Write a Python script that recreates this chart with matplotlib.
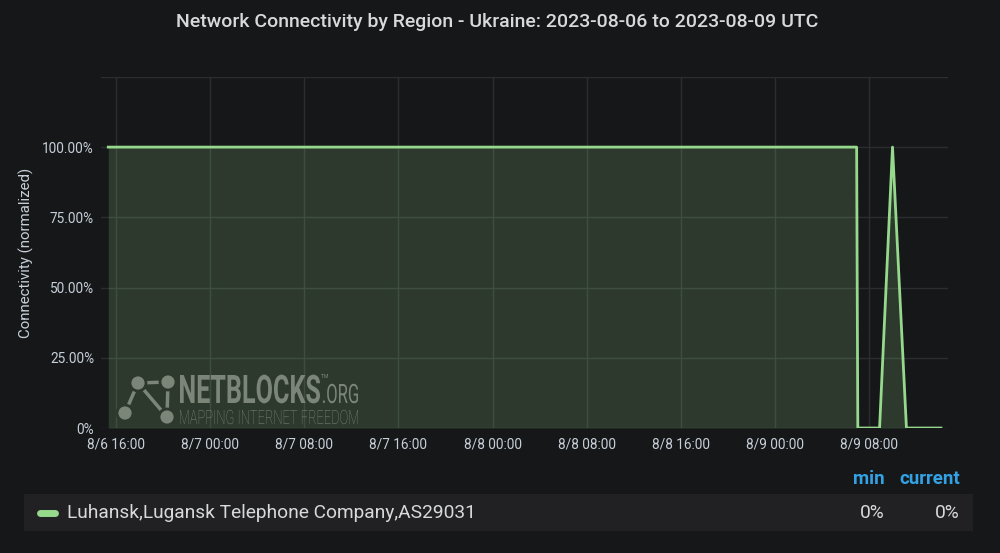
import pandas as pd
import matplotlib.pyplot as plt
from matplotlib.patches import FancyBboxPatch, Circle, PathPatch
from matplotlib.lines import Line2D
from matplotlib.textpath import TextPath
from matplotlib.font_manager import FontProperties
from matplotlib.transforms import Affine2D, IdentityTransform

# Series (UTC)
times = ["2023-08-06 15:20", "2023-08-09 06:57", "2023-08-09 07:03",
         "2023-08-09 08:54", "2023-08-09 10:00", "2023-08-09 11:11",
         "2023-08-09 14:07"]
values = [100, 100, 0, 0, 100, 0, 0]

series_name = "Luhansk,Lugansk Telephone Company,AS29031"
legend_min = "0%"
legend_current = "0%"

x_start, x_end = "2023-08-06 14:43", "2023-08-09 14:43"
x_ticks = ["2023-08-06 16:00", "2023-08-07 00:00", "2023-08-07 08:00",
           "2023-08-07 16:00", "2023-08-08 00:00", "2023-08-08 08:00",
           "2023-08-08 16:00", "2023-08-09 00:00", "2023-08-09 08:00"]
x_tick_labels = ["8/6 16:00", "8/7 00:00", "8/7 08:00", "8/7 16:00", "8/8 00:00",
                 "8/8 08:00", "8/8 16:00", "8/9 00:00", "8/9 08:00"]
y_ticks = [0, 25, 50, 75, 100, 125]
y_tick_labels = ["0%", "25.00%", "50.00%", "75.00%", "100.00%", ""]

BG = "#161719"
LINE = "#96d98d"
TEXT = "#c7d0d9"
GRID = "#2c2d30"
H = 553

plt.rcParams["font.family"] = ["Roboto", "DejaVu Sans"]

t = pd.to_datetime(times)
fig = plt.figure(figsize=(10, 5.53), dpi=100, facecolor=BG)
ax = fig.add_axes([0.101, 0.226, 0.847, 0.635], facecolor=BG)

ax.fill_between(t, values, 0, color=LINE, alpha=0.18, linewidth=0, zorder=2)
ax.plot(t, values, color=LINE, linewidth=2, zorder=3)

ax.set_xlim(pd.Timestamp(x_start), pd.Timestamp(x_end))
ax.set_ylim(0, 125)
ax.set_xticks(pd.to_datetime(x_ticks))
ax.set_xticklabels(x_tick_labels)
ax.set_yticks(y_ticks)
ax.set_yticklabels(y_tick_labels)
ax.tick_params(colors=TEXT, labelsize=9.8, length=0)
ax.tick_params(axis="x", pad=7)
ax.tick_params(axis="y", pad=5)
ax.grid(True, color=GRID, linewidth=1, zorder=0)
for s in ax.spines.values():
    s.set_visible(False)
ax.set_ylabel("Connectivity (normalized)", color=TEXT, fontsize=10.8, labelpad=6)

fig.text(0.497, 0.96, "Network Connectivity by Region - Ukraine: 2023-08-06 to 2023-08-09 UTC",
         ha="center", va="center", color="#d8d9da", fontsize=14, fontweight="medium")


# watermark, drawn in pixel coordinates so it can be squeezed like the original logo
WM = "#7b8679"
HALO = "#2e392d"


def boxed_text(s, x0, x1, base, cap, weight="normal"):
    tp = TextPath((0, 0), s, size=100, prop=FontProperties(family="Roboto", weight=weight))
    bb = tp.get_extents()
    tr = Affine2D().translate(-bb.x0, 0).scale((x1 - x0) / bb.width, cap / 71.1)
    tr = tr.translate(x0, H - base)
    fig.add_artist(PathPatch(tp, transform=tr, facecolor=WM, edgecolor="none", zorder=5))


boxed_text("NETBLOCKS", 180, 320, 403, 28, "bold")
boxed_text(".ORG", 323, 358, 403, 19)
boxed_text("TM", 321, 328, 378, 4)
boxed_text("MAPPING INTERNET FREEDOM", 180, 358, 424, 14, "light")

nodes = [(138, 383), (168, 382), (125, 413), (167, 417)]
for a, b in [(0, 1), (0, 2), (0, 3), (1, 3)]:
    fig.add_artist(Line2D([nodes[a][0], nodes[b][0]], [H - nodes[a][1], H - nodes[b][1]],
                          transform=IdentityTransform(), color=WM, linewidth=2.5, zorder=5))
for nx, ny in nodes:
    fig.add_artist(Circle((nx, H - ny), 8, transform=IdentityTransform(),
                          facecolor=WM, edgecolor=HALO, linewidth=2, zorder=6))

# legend table
fig.add_artist(FancyBboxPatch((0.024, 1 - 531 / H), 0.949, 37 / H,
                              boxstyle="square,pad=0", transform=fig.transFigure,
                              facecolor="#212124", edgecolor="none"))
fig.add_artist(Line2D([0.040, 0.055], [1 - 513 / H] * 2, transform=fig.transFigure,
                      color=LINE, linewidth=5, solid_capstyle="round"))
fig.text(0.067, 1 - 513 / H, series_name, color="#d8d9da", fontsize=13.8,
         ha="left", va="center")
fig.text(0.885, 1 - 513 / H, legend_min, color="#d8d9da", fontsize=13.8, ha="right", va="center")
fig.text(0.960, 1 - 513 / H, legend_current, color="#d8d9da", fontsize=13.8, ha="right", va="center")
fig.text(0.885, 1 - 479 / H, "min", color="#33a2e5", fontsize=13.5, fontweight="bold",
         ha="right", va="center")
fig.text(0.960, 1 - 479 / H, "current", color="#33a2e5", fontsize=13.5, fontweight="bold",
         ha="right", va="center")

fig.savefig("out.png", dpi=100, facecolor=BG)
